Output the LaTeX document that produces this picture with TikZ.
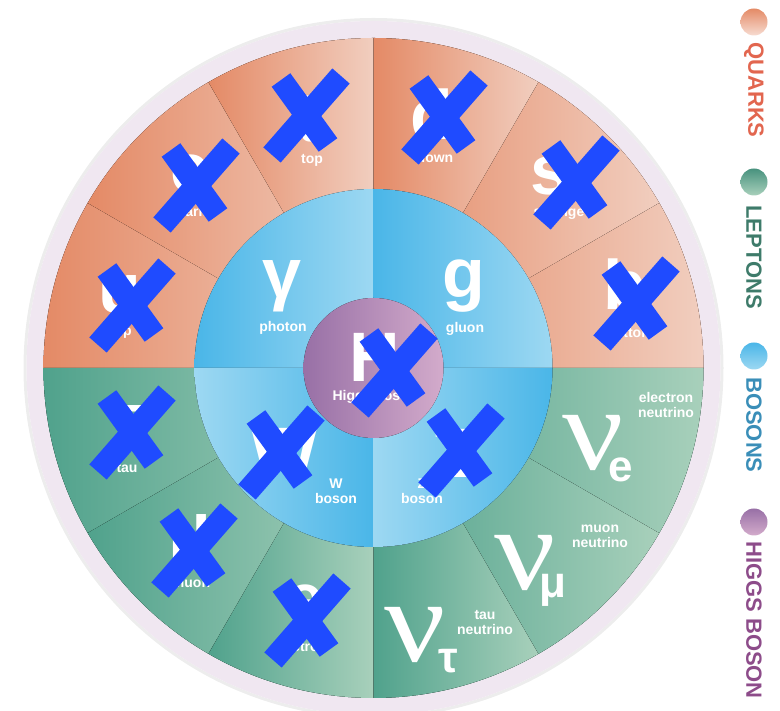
\documentclass[tikz,border=0pt]{standalone}
\usepackage{fontspec}
\setmainfont{Liberation Sans}
\newfontfamily\serifgr{Liberation Serif}
\definecolor{qdark}{HTML}{E48A66}
\definecolor{qlight}{HTML}{F1CEBF}
\definecolor{ldark}{HTML}{50A28C}
\definecolor{llight}{HTML}{A8D0BB}
\definecolor{bdark}{HTML}{4AB6E8}
\definecolor{blight}{HTML}{9DD8F2}
\definecolor{hdark}{HTML}{9870A6}
\definecolor{hlight}{HTML}{D3ABCB}
\definecolor{ringcol}{HTML}{F0E7F1}
\definecolor{xblue}{HTML}{1F4BFF}
\definecolor{qtext}{HTML}{E2664F}
\definecolor{ltext}{HTML}{3E7B6A}
\definecolor{btext}{HTML}{3A8EB8}
\definecolor{htext}{HTML}{8D4C8A}
\newcommand\wedgefill[5]{\fill[left color=#4,right color=#5] (C) -- ++(#1:#3) arc[start angle=#1,end angle=#2,radius=#3] -- cycle;}
\begin{document}
\begin{tikzpicture}[x=1pt,y=1pt,
  big/.style={text=white,font=\fontsize{70}{70}\selectfont\bfseries,inner sep=0pt,anchor=base},
  lbl/.style={text=white,font=\fontsize{14}{15}\selectfont\bfseries,inner sep=0pt,align=center},
  nusym/.style={text=white,font=\fontsize{118}{118}\selectfont\serifgr,inner sep=0pt,anchor=base,xscale=1.15},
  subsym/.style={text=white,font=\fontsize{44}{44}\selectfont\bfseries,inner sep=0pt,anchor=base},
  xstroke/.style={draw=xblue,line width=23pt,line cap=butt},
  legtext/.style={font=\fontsize{22}{22}\selectfont\bfseries,rotate=-90,inner sep=0pt},
  xmk/.pic={\draw[xstroke] (-21,35) -- (26,-30); \draw[xstroke] (39,39) -- (-30,-40);}
]
\useasboundingbox (0,0) rectangle (780,711);
\coordinate (C) at (373.5,343);
% outer ring
\draw[black!7,line width=3pt] (C) circle[radius=348.5];
\fill[ringcol] (C) circle[radius=347];
% base fills
\fill[qdark!60!qlight] (C) -- ++(0:330) arc[start angle=0,end angle=180,radius=330] -- cycle;
\fill[ldark!60!llight] (C) -- ++(180:330) arc[start angle=180,end angle=360,radius=330] -- cycle;
% quark wedges
\wedgefill{150}{180}{330}{qdark}{qlight}
\wedgefill{120}{150}{330}{qdark}{qlight}
\wedgefill{90}{120}{330}{qdark}{qlight}
\wedgefill{60}{90}{330}{qdark}{qlight}
\wedgefill{30}{60}{330}{qdark}{qlight}
\wedgefill{0}{30}{330}{qdark}{qlight}
% lepton wedges
\wedgefill{180}{210}{330}{ldark}{llight}
\wedgefill{210}{240}{330}{ldark}{llight}
\wedgefill{240}{270}{330}{ldark}{llight}
\wedgefill{270}{300}{330}{ldark}{llight}
\wedgefill{300}{330}{330}{ldark}{llight}
\wedgefill{330}{360}{330}{ldark}{llight}
% boson quadrants
\wedgefill{90}{180}{179}{bdark}{blight}
\wedgefill{0}{90}{179}{bdark}{blight}
\wedgefill{180}{270}{179}{blight}{bdark}
\wedgefill{270}{360}{179}{blight}{bdark}
% higgs
\fill[left color=hdark,right color=hlight] (C) circle[radius=70];

% quark texts
\node[big] (ul) at (120,398) {u};
\node[lbl] (ut) at (123,378) {up};
\node[big] (cl) at (190,518) {c};
\node[lbl] (ct) at (190,499) {charm};
\node[big] (tl) at (308,569) {t};
\node[lbl] (tt) at (312,551) {top};
\node[big] (dl) at (432,571) {d};
\node[lbl] (dt) at (435,553) {down};
\node[big] (sl) at (550,516) {s};
\node[lbl] (st) at (559,498) {strange};
\node[big] (bl) at (625,401) {b};
\node[lbl] (bt) at (630,378) {bottom};
% boson texts
\node[big] (gaml) at (282,413) {γ};
\node[lbl] (gamt) at (283,383) {photon};
\node[big] (gl) at (464,413) {g};
\node[lbl] (gt) at (465,382) {gluon};
\node[big] (hl) at (375,329) {H};
\node[lbl] (ht) at (375,314) {Higgs boson};
\node[big] (wl) at (285,234) {W};
\node[lbl] (wt) at (336,220) {W\\boson};
\node[big] (zl) at (453,233) {Z};
\node[lbl] (zt) at (422,220) {Z\\boson};
% lepton texts
\node[big] (taul) at (127,268) {τ};
\node[lbl] (taut) at (127,243) {tau};
\node[big] (mul) at (190,159) {μ};
\node[lbl] (mut) at (191,127) {muon};
\node[big] (el) at (305,88) {e};
\node[lbl] (et) at (300,64) {electron};
% neutrinos
\node[nusym] (nue) at (593,241) {ν};
\node[subsym] (nues) at (621,229) {e};
\node[lbl] (nuet) at (666,305.5) {electron\\neutrino};
\node[nusym] (num) at (525,121) {ν};
\node[subsym] (nums) at (553,113) {μ};
\node[lbl] (numt) at (600,174.5) {muon\\neutrino};
\node[nusym] (nut) at (415,49) {ν};
\node[subsym] (nuts) at (448,38) {τ};
\node[lbl] (nutt) at (485,88.5) {tau\\neutrino};

% crosses
\pic at (128,406) {xmk};
\pic at (192,526) {xmk};
\pic at (302,596) {xmk};
\pic at (440,594) {xmk};
\pic at (572,529) {xmk};
\pic at (632,408) {xmk};
\pic at (390,341) {xmk};
\pic at (128,279) {xmk};
\pic at (277,259) {xmk};
\pic at (190,161) {xmk};
\pic at (303,91) {xmk};
\pic at (457,261) {xmk};

% legend
\shade[top color=qdark,bottom color=qdark!30!white] (754,689) circle[radius=13.5];
\node[legtext,text=qtext] (lq) at (754,621) {QUARKS};
\shade[top color=ldark!90!black,bottom color=llight] (754,529) circle[radius=13.5];
\node[legtext,text=ltext] (ll) at (754,454) {LEPTONS};
\shade[top color=bdark,bottom color=blight] (754,355) circle[radius=13.5];
\node[legtext,text=btext] (lb) at (754,286) {BOSONS};
\shade[top color=hdark,bottom color=hlight] (754,189) circle[radius=13.5];
\node[legtext,text=htext] (lh) at (754,91) {HIGGS BOSON};
\end{tikzpicture}
\end{document}
